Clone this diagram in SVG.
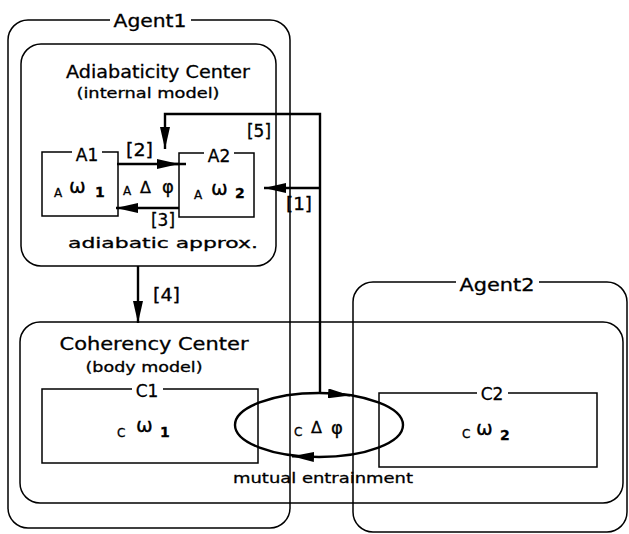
<svg xmlns="http://www.w3.org/2000/svg" width="629" height="534" viewBox="0 0 629 534">
<style>
text{font-family:"DejaVu Sans","Liberation Sans",sans-serif;fill:#000;stroke:#000;stroke-width:0.3}
.box{fill:none;stroke:#000;stroke-width:1.5}
.gap{fill:#fff;stroke:none}
.con{fill:none;stroke:#000;stroke-width:2.4}
.t16{font-size:17px}
.t14{font-size:14.5px}
.t13{font-size:14px}
.br{font-size:17px}
.sm{font-size:12px}
.om{font-size:20px}
.num{font-size:14px;font-weight:bold}
.dl{font-size:16px}
.ph{font-size:18px}
</style>
<defs>
<marker id="ah" markerUnits="userSpaceOnUse" markerWidth="22" markerHeight="10" refX="22" refY="5" orient="auto">
<path d="M0,0 L22,5 L0,10 z" fill="#000"/>
</marker>
</defs>
<rect width="629" height="534" fill="#fff"/>
<g id="agent1">
<rect class="box" x="8" y="20" width="282" height="508" rx="20"/>
<rect class="gap" x="110" y="12" width="81" height="16"/>
<text class="t16" x="150" y="27" text-anchor="middle" textLength="73" lengthAdjust="spacingAndGlyphs">Agent1</text>
</g>
<g id="agent2">
<rect class="box" x="353" y="282" width="274" height="250" rx="20"/>
<rect class="gap" x="456" y="274" width="83" height="16"/>
<text class="t16" x="497" y="291" text-anchor="middle" textLength="75" lengthAdjust="spacingAndGlyphs">Agent2</text>
</g>
<g id="adiabaticity-center">
<rect class="box" x="21" y="44" width="255" height="222" rx="20"/>
<text class="t16" x="158" y="78" text-anchor="middle" textLength="184" lengthAdjust="spacingAndGlyphs">Adiabaticity Center</text>
<text class="t13" x="148" y="98" text-anchor="middle" textLength="143" lengthAdjust="spacingAndGlyphs">(internal model)</text>
<text class="t14" x="163" y="248" text-anchor="middle" textLength="190" lengthAdjust="spacingAndGlyphs">adiabatic approx.</text>
<text class="sm" x="123" y="195">A</text>
<text class="dl" x="140" y="193">Δ</text>
<text class="ph" x="162" y="193">φ</text>
</g>
<g id="A1">
<rect class="box" x="42" y="152" width="76" height="64"/>
<rect class="gap" x="72" y="146" width="30" height="12"/>
<text class="t16" x="87" y="161" text-anchor="middle">A1</text>
<text class="sm" x="54" y="197">A</text>
<text class="om" x="69" y="193">ω</text>
<text class="num" x="95" y="197">1</text>
</g>
<g id="A2">
<rect class="box" x="179" y="153" width="75" height="64"/>
<rect class="gap" x="204" y="147" width="30" height="12"/>
<text class="t16" x="219" y="162" text-anchor="middle">A2</text>
<text class="sm" x="194" y="199">A</text>
<text class="om" x="211" y="195">ω</text>
<text class="num" x="235" y="198">2</text>
</g>
<g id="coherency-center">
<rect class="box" x="20" y="322" width="603" height="181" rx="20"/>
<text class="t16" x="154" y="350" text-anchor="middle" textLength="189" lengthAdjust="spacingAndGlyphs">Coherency Center</text>
<text class="t13" x="144" y="372" text-anchor="middle" textLength="117" lengthAdjust="spacingAndGlyphs">(body model)</text>
<text class="t14" x="323" y="483" text-anchor="middle" textLength="180" lengthAdjust="spacingAndGlyphs">mutual entrainment</text>
<text class="sm" x="294" y="436">C</text>
<text class="dl" x="311" y="433">Δ</text>
<text class="ph" x="331" y="434">φ</text>
</g>
<g id="C1">
<rect class="box" x="42" y="389" width="216" height="74"/>
<rect class="gap" x="132" y="383" width="31" height="12"/>
<text class="t16" x="147" y="397" text-anchor="middle">C1</text>
<text class="sm" x="117" y="437">C</text>
<text class="om" x="136" y="432">ω</text>
<text class="num" x="160" y="437">1</text>
</g>
<g id="C2">
<rect class="box" x="379" y="393" width="218" height="74"/>
<rect class="gap" x="477" y="387" width="31" height="12"/>
<text class="t16" x="492" y="400" text-anchor="middle">C2</text>
<text class="sm" x="462" y="438">C</text>
<text class="om" x="476" y="435">ω</text>
<text class="num" x="500" y="440">2</text>
</g>
<g id="connectors">
<path class="con" d="M320,394 L320,114 L165,114 L165,149" marker-end="url(#ah)"/>
<path class="con" d="M320,188 L264,188" marker-end="url(#ah)"/>
<path class="con" d="M117,164 L186,164"/>
<path class="con" d="M168,164 L179,164" marker-end="url(#ah)"/>
<path class="con" d="M179,208 L116,208" marker-end="url(#ah)"/>
<path class="con" d="M138,266 L138,323" marker-end="url(#ah)"/>
<ellipse class="con" cx="319" cy="425" rx="84" ry="32"/>
<path class="con" d="M330,393.6 L350,395.4" marker-end="url(#ah)"/>
<path class="con" d="M312,456.9 L292,456.2" marker-end="url(#ah)"/>
</g>
<g id="labels">
<text class="br" x="247" y="137" textLength="24" lengthAdjust="spacingAndGlyphs">[5]</text>
<text class="br" x="126" y="156" textLength="27" lengthAdjust="spacingAndGlyphs">[2]</text>
<text class="br" x="151" y="226" textLength="24" lengthAdjust="spacingAndGlyphs">[3]</text>
<text class="br" x="286" y="210" textLength="26" lengthAdjust="spacingAndGlyphs">[1]</text>
<text class="br" x="153" y="301" textLength="27" lengthAdjust="spacingAndGlyphs">[4]</text>
</g>
</svg>
